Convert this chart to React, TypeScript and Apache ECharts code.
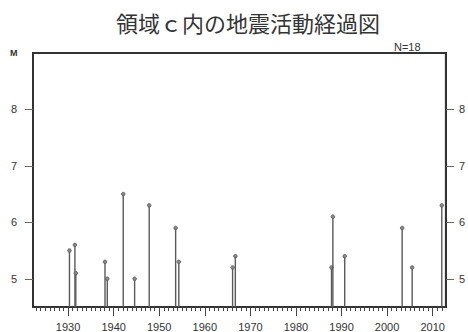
import React, { useEffect, useRef } from "react";
import * as echarts from "echarts";

const years = [1930.3, 1931.5, 1931.7, 1938.1, 1938.6, 1942.1, 1944.6, 1947.8, 1953.6, 1954.3, 1966.1, 1966.7, 1987.8, 1988.1, 1990.7, 2003.3, 2005.5, 2012.0];
const mags = [5.5, 5.6, 5.1, 5.3, 5.0, 6.5, 5.0, 6.3, 5.9, 5.3, 5.2, 5.4, 5.2, 6.1, 5.4, 5.9, 5.2, 6.3];
const yearLabels = [1930, 1940, 1950, 1960, 1970, 1980, 1990, 2000, 2010];
const minorYears: number[] = [];
for (let y = 1923; y <= 2012; y++) minorYears.push(y);
const magTicks = [5, 6, 7, 8];
const X_MIN = 1922.3;
const X_MAX = 2012.9;
const Y_MIN = 4.5;
const Y_MAX = 9.0;

export default function App() {
  const ref = useRef<HTMLDivElement>(null);
  useEffect(() => {
    if (!ref.current) return;
    const chart = echarts.init(ref.current, null, { renderer: "svg" });
    const font = "'Liberation Sans', Arial, sans-serif";
    const data = years.map((y, i) => [y, mags[i]]);
    const plain = (v: number) => String(v);
    chart.setOption({
      animation: false,
      backgroundColor: "#fff",
      title: {
        text: "領域ｃ内の地震活動経過図",
        left: 111,
        top: 6,
        textStyle: { fontSize: 22, fontWeight: "normal", color: "#333", fontFamily: "'Noto Sans CJK JP', sans-serif" },
      },
      grid: { left: 33, right: 19, top: 53, bottom: 25, show: true, borderColor: "#333", borderWidth: 2, backgroundColor: "transparent" },
      xAxis: [
        {
          type: "value",
          min: X_MIN,
          max: X_MAX,
          position: "bottom",
          axisLine: { show: true, lineStyle: { color: "#333", width: 2 } },
          axisTick: { show: true, customValues: yearLabels, length: 9, lineStyle: { color: "#444", width: 1 } },
          axisLabel: { customValues: yearLabels, formatter: plain, fontSize: 11, color: "#333", fontFamily: font, margin: 14 },
          splitLine: { show: false },
        },
        {
          type: "value",
          min: X_MIN,
          max: X_MAX,
          position: "bottom",
          offset: 0,
          axisLine: { show: false },
          axisTick: { show: true, customValues: minorYears, length: 4, lineStyle: { color: "#444", width: 1 } },
          axisLabel: { show: false },
          splitLine: { show: false },
        },
      ],
      yAxis: [
        {
          type: "value",
          min: Y_MIN,
          max: Y_MAX,
          position: "left",
          axisLine: { show: true, lineStyle: { color: "#333", width: 2 } },
          axisTick: { show: true, customValues: magTicks, length: 8, lineStyle: { color: "#666", width: 1 } },
          axisLabel: { customValues: magTicks, formatter: plain, fontSize: 11, color: "#333", fontFamily: font, margin: 16 },
          splitLine: { show: false },
        },
        {
          type: "value",
          min: Y_MIN,
          max: Y_MAX,
          position: "right",
          axisLine: { show: true, lineStyle: { color: "#333", width: 2 } },
          axisTick: { show: true, customValues: magTicks, length: 8, lineStyle: { color: "#666", width: 1 } },
          axisLabel: { customValues: magTicks, formatter: plain, fontSize: 11, color: "#333", fontFamily: font, margin: 13 },
          splitLine: { show: false },
        },
      ],
      graphic: [
        { type: "text", left: 10, top: 48, style: { text: "M", fontSize: 9, fontWeight: "bold", fill: "#333", fontFamily: font } },
        { type: "text", left: 394, top: 41, style: { text: "N=18", fontSize: 11, fill: "#333", fontFamily: font } },
      ],
      series: [
        {
          type: "custom",
          xAxisIndex: 0,
          yAxisIndex: 0,
          data,
          encode: { x: 0, y: 1 },
          renderItem: (params: any, api: any) => {
            const top = api.coord([api.value(0), api.value(1)]);
            const base = api.coord([api.value(0), Y_MIN]);
            return {
              type: "group",
              children: [
                { type: "line", shape: { x1: top[0], y1: base[1], x2: top[0], y2: top[1] }, style: { stroke: "#5a5a5a", lineWidth: 1.4 } },
                { type: "circle", shape: { cx: top[0], cy: top[1], r: 1.8 }, style: { fill: "#888", stroke: "#555", lineWidth: 0.8 } },
              ],
            };
          },
        },
      ],
    });
    return () => chart.dispose();
  }, []);
  return <div ref={ref} style={{ width: 468, height: 332, position: "absolute", left: 0, top: 0 }} />;
}
